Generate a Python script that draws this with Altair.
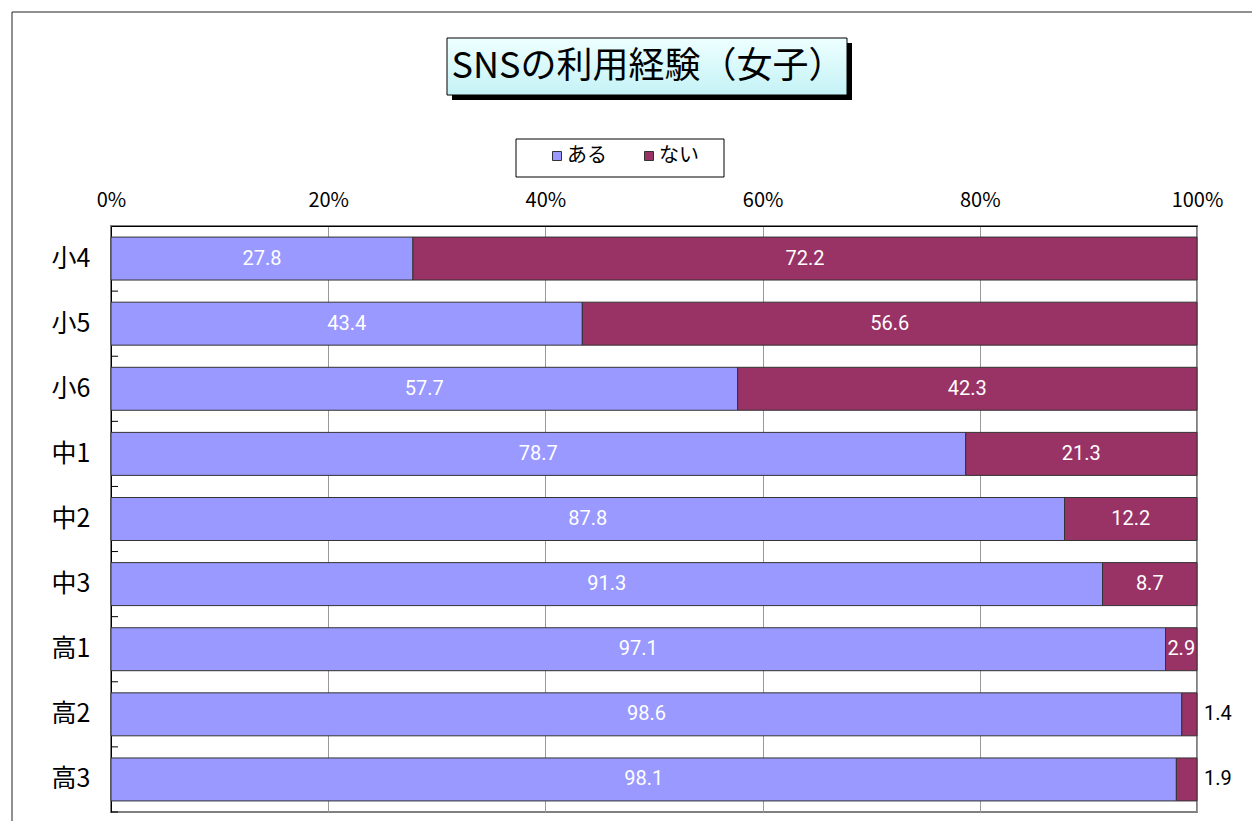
import altair as alt
import pandas as pd

# ---- data ----
categories = ["小4", "小5", "小6", "中1", "中2", "中3", "高1", "高2", "高3"]
series_names = ["ある", "ない"]
aru_values = [27.8, 43.4, 57.7, 78.7, 87.8, 91.3, 97.1, 98.6, 98.1]
nai_values = [72.2, 56.6, 42.3, 21.3, 12.2, 8.7, 2.9, 1.4, 1.9]
x_ticks = [0, 20, 40, 60, 80, 100]
title_text = "SNSの利用経験（女子）"
colors = ["#9999FF", "#993366"]

JP = "Noto Sans CJK JP"

rows = []
for c, a, n in zip(categories, aru_values, nai_values):
    rows.append({"cat": c, "series": "ある", "value": a, "start": 0.0, "end": a})
    rows.append({"cat": c, "series": "ない", "value": n, "start": a, "end": a + n})
df = pd.DataFrame(rows)
df["mid"] = (df["start"] + df["end"]) / 2
df["label"] = df["value"].map(lambda v: f"{v:.1f}")
df["inside"] = df["value"] >= 2

ydef = dict(field="cat", type="nominal", sort=categories,
            scale=alt.Scale(paddingInner=0, paddingOuter=0),
            axis=alt.Axis(title=None, labelFont=JP, labelFontSize=25, labelColor="black",
                          labelPadding=21, ticks=False, domainColor="black", domainWidth=1))

xscale = alt.Scale(domain=[0, 100], nice=False, zero=True)
xaxis = alt.Axis(orient="top", values=x_ticks, labelExpr="datum.value + '%'", title=None,
                 labelFont=JP, labelFontSize=20, labelColor="black", labelPadding=16,
                 labelFlush=False,
                 ticks=False, grid=True, gridColor="#999999", gridWidth=1,
                 domainColor="black", domainWidth=1)

deco = pd.DataFrame({"t": [title_text]})

border = alt.Chart(deco).mark_rect(filled=False, stroke="#222222", strokeWidth=1).encode(
    x=alt.value(-99), x2=alt.value(1400), y=alt.value(-214), y2=alt.value(800))

title_shadow = alt.Chart(deco).mark_rect(fill="black").encode(
    x=alt.value(341), x2=alt.value(741), y=alt.value(-183), y2=alt.value(-126))

grad = alt.LinearGradient(gradient="linear",
                          stops=[alt.GradientStop(color="#EEFFFF", offset=0),
                                 alt.GradientStop(color="#C4F2F6", offset=1)],
                          x1=0, x2=0, y1=0, y2=1)
title_box = alt.Chart(deco).mark_rect(fill=grad, stroke="black", strokeWidth=1).encode(
    x=alt.value(336), x2=alt.value(736), y=alt.value(-188), y2=alt.value(-131))

title_txt = alt.Chart(deco).mark_text(font=JP, fontSize=36, color="black",
                                      align="center", baseline="middle").encode(
    x=alt.value(537), y=alt.value(-159), text="t:N")

legend_box = alt.Chart(deco).mark_rect(fill="white", stroke="black", strokeWidth=1).encode(
    x=alt.value(405), x2=alt.value(613), y=alt.value(-87), y2=alt.value(-49))

bars = alt.Chart(df).mark_bar(height={"band": 0.66}, stroke="#333333", strokeWidth=1).encode(
    y=alt.Y(**ydef),
    x=alt.X("start:Q", scale=xscale, axis=xaxis),
    x2="end:Q",
    color=alt.Color("series:N",
                    scale=alt.Scale(domain=series_names, range=colors),
                    legend=alt.Legend(orient="none", legendX=436, legendY=-80,
                                      direction="horizontal", title=None,
                                      symbolType="square", symbolSize=81,
                                      symbolStrokeColor="#333333", symbolStrokeWidth=1,
                                      labelFont=JP, labelFontSize=20, labelColor="black",
                                      labelOffset=0, columnPadding=32)),
)

inside_labels = alt.Chart(df).transform_filter("datum.inside").mark_text(
    font="Roboto", fontSize=20, color="white", align="center", baseline="middle").encode(
    y=alt.Y("cat:N", sort=categories),
    x=alt.X("mid:Q"),
    text="label:N")

outside_labels = alt.Chart(df).transform_filter("!datum.inside").mark_text(
    font="Roboto", fontSize=20, color="black", align="left", baseline="middle", dx=7).encode(
    y=alt.Y("cat:N", sort=categories),
    x=alt.X("end:Q"),
    text="label:N")

tick_df = pd.DataFrame({"cat": categories})
ticks = alt.Chart(tick_df).mark_rule(color="black", strokeWidth=1).encode(
    y=alt.Y("cat:N", sort=categories, bandPosition=1),
    x=alt.value(0), x2=alt.value(7))

chart = alt.layer(border, title_shadow, title_box, title_txt, legend_box,
                  bars, inside_labels, outside_labels, ticks).properties(
    width=1086, height=586,
    autosize=alt.AutoSizeParams(type="none"),
    padding={"left": 103, "top": 218, "right": 55, "bottom": 9},
    background="white",
).configure_view(stroke="#808080", strokeWidth=2)

chart.save("out.html", embed_options={"renderer": "svg", "actions": False})
